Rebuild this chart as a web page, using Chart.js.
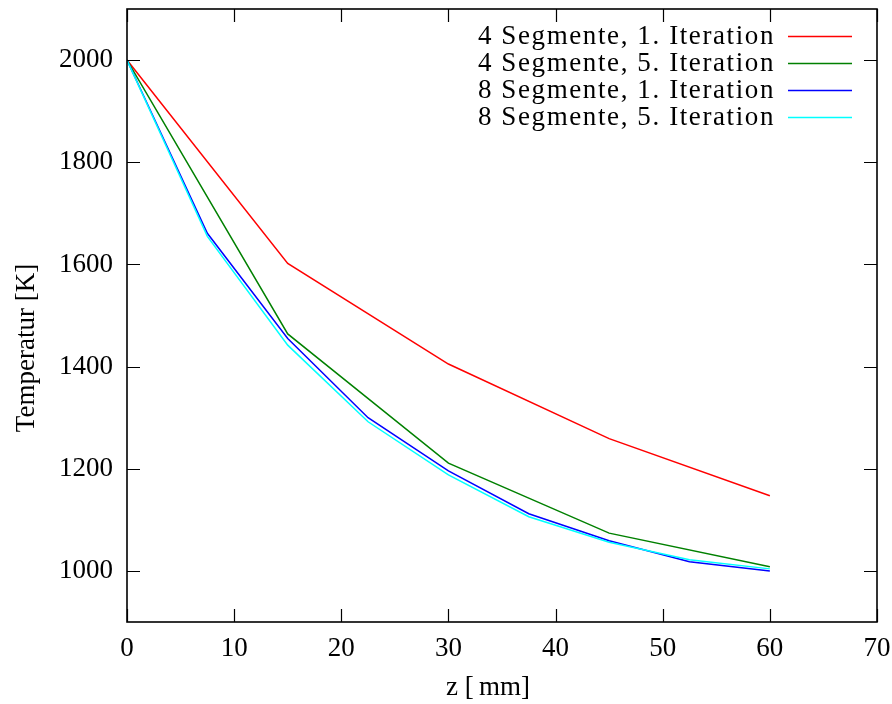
<!DOCTYPE html>
<html>
<head>
<meta charset="utf-8">
<script src="https://cdn.jsdelivr.net/npm/chart.js@4/dist/chart.umd.min.js"></script>
<style>
  body { margin: 0; background: #fff; }
  #wrap { width: 892px; height: 704px; position: relative; }
</style>
</head>
<body>
<div id="wrap"><canvas id="tempChart"></canvas></div>
<script>
// Data
const xs4 = [0, 15, 30, 45, 60];
const seg4it1 = [2000, 1602, 1405, 1259, 1147];
const seg4it5 = [2000, 1464, 1211, 1074, 1008];
const xs8 = [0, 7.5, 15, 22.5, 30, 37.5, 45, 52.5, 60];
const seg8it1 = [2000, 1661, 1455, 1300, 1196, 1112, 1059, 1018, 1000];
const seg8it5 = [2000, 1655, 1442, 1292, 1188, 1106, 1056, 1022, 1004];

const seriesLabels = [
    "4 Segmente, 1. Iteration",
    "4 Segmente, 5. Iteration",
    "8 Segmente, 1. Iteration",
    "8 Segmente, 5. Iteration"
];
const xTicks = [0, 10, 20, 30, 40, 50, 60, 70];
const yTicks = [1000, 1200, 1400, 1600, 1800, 2000];
const xTitle = "z [\u2009mm]";
const yTitle = "Temperatur [K]";

const colors = ["#ff0000", "#008000", "#0000ff", "#00ffff"];
const serif = "'Liberation Serif', 'DejaVu Serif', serif";

function pts(xs, ys) {
    return xs.map((x, i) => ({ x: x, y: ys[i] }));
}

// frame with inward ticks on all four sides (gnuplot look)
const framePlugin = {
    id: "frame",
    afterDatasetsDraw(chart) {
        const ctx = chart.ctx;
        const a = chart.chartArea;
        const xs = chart.scales.x, ys = chart.scales.y;
        const tl = 13;
        ctx.save();
        ctx.strokeStyle = "#000";
        ctx.lineWidth = 1.6;
        ctx.strokeRect(a.left, a.top, a.right - a.left, a.bottom - a.top);
        ctx.lineWidth = 1.2;
        ctx.beginPath();
        xTicks.forEach(v => {
            const px = Math.round(xs.getPixelForValue(v)) + 0.5;
            ctx.moveTo(px, a.bottom); ctx.lineTo(px, a.bottom - tl);
            ctx.moveTo(px, a.top); ctx.lineTo(px, a.top + tl);
        });
        yTicks.forEach(v => {
            const py = Math.round(ys.getPixelForValue(v)) + 0.5;
            ctx.moveTo(a.left, py); ctx.lineTo(a.left + tl, py);
            ctx.moveTo(a.right, py); ctx.lineTo(a.right - tl, py);
        });
        ctx.stroke();
        ctx.restore();
    }
};

// axis titles, placed like the gnuplot/latex output (slightly off centre)
const titlePlugin = {
    id: "titles",
    afterDraw(chart) {
        const ctx = chart.ctx;
        ctx.save();
        ctx.font = "27px " + serif;
        ctx.fillStyle = "#000";
        ctx.textAlign = "center";
        ctx.textBaseline = "middle";
        ctx.fillText(xTitle, 488, 688);
        ctx.translate(27, 348);
        ctx.rotate(-Math.PI / 2);
        ctx.fillText(yTitle, 0, 0);
        ctx.restore();
    }
};

// key in the top right corner: text first, line sample after it
const keyPlugin = {
    id: "key",
    afterDraw(chart) {
        const ctx = chart.ctx;
        ctx.save();
        ctx.font = "27px " + serif;
        ctx.letterSpacing = "1.6px";
        ctx.textAlign = "right";
        ctx.textBaseline = "middle";
        chart.data.datasets.forEach((ds, i) => {
            const y = 36 + i * 27;
            ctx.fillStyle = "#000";
            ctx.fillText(ds.label, 775, y + 1);
            ctx.strokeStyle = ds.borderColor;
            ctx.lineWidth = 1.5;
            ctx.beginPath();
            ctx.moveTo(788, Math.round(y) + 0.5);
            ctx.lineTo(852, Math.round(y) + 0.5);
            ctx.stroke();
        });
        ctx.restore();
    }
};

const allX = [xs4, xs4, xs8, xs8];
const allY = [seg4it1, seg4it5, seg8it1, seg8it5];

const ctx = document.getElementById("tempChart").getContext("2d");
const tempChart = new Chart(ctx, {
    type: "line",
    data: {
        datasets: seriesLabels.map((label, i) => ({
            label: label,
            data: pts(allX[i], allY[i]),
            borderColor: colors[i],
            backgroundColor: colors[i],
            borderWidth: 1.5,
            pointRadius: 0,
            tension: 0,
            fill: false,
            order: 3 - i
        }))
    },
    options: {
        responsive: true,
        maintainAspectRatio: false,
        animation: false,
        layout: { padding: { top: 9, right: 15, left: 0, bottom: 0 } },
        plugins: {
            legend: { display: false },
            tooltip: { enabled: false }
        },
        scales: {
            x: {
                type: "linear",
                min: 0,
                max: 70,
                afterBuildTicks: (s) => { s.ticks = xTicks.map(v => ({ value: v })); },
                afterFit: (s) => {
                    s.height = 82;
                    s.paddingLeft = 0;
                    s.paddingRight = 0;
                },
                grid: { display: false, drawTicks: false },
                border: { display: false },
                ticks: {
                    color: "#000",
                    font: { family: serif, size: 27 },
                    padding: 11,
                    maxRotation: 0,
                    autoSkip: false,
                    callback: (v) => String(v)
                }
            },
            y: {
                type: "linear",
                min: 900,
                max: 2100,
                afterBuildTicks: (s) => { s.ticks = yTicks.map(v => ({ value: v })); },
                afterFit: (s) => {
                    s.width = 127;
                    s.paddingTop = 0;
                    s.paddingBottom = 0;
                },
                grid: { display: false, drawTicks: false },
                border: { display: false },
                ticks: {
                    color: "#000",
                    font: { family: serif, size: 27 },
                    padding: 14,
                    autoSkip: false,
                    callback: (v) => String(v)
                }
            }
        }
    },
    plugins: [framePlugin, titlePlugin, keyPlugin]
});
</script>
</body>
</html>
